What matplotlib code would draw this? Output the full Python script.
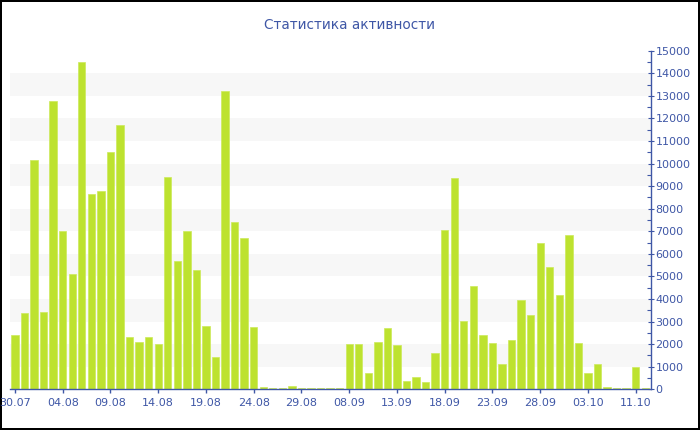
import matplotlib.pyplot as plt
from matplotlib.ticker import MultipleLocator

# Daily activity values, one bar per day shown on the chart
values = [
    2400, 3370, 10150, 3440, 12770, 7030, 5100, 14490, 8640, 8790,
    10530, 11710, 2300, 2110, 2300, 2010, 9400, 5680, 7000, 5300,
    2820, 1450, 13200, 7400, 6690, 2750, 90, 60, 40, 130,
    70, 60, 60, 50, 40, 2000, 1990, 740, 2110, 2730,
    1960, 370, 545, 310, 1600, 7050, 9380, 3030, 4590, 2390,
    2050, 1120, 2200, 3960, 3280, 6500, 5420, 4160, 6820, 2050,
    710, 1110, 110, 50, 50, 975, 50,
]

# Labels shown under every fifth bar
tick_labels = ['30.07', '04.08', '09.08', '14.08', '19.08', '24.08', '29.08',
               '08.09', '13.09', '18.09', '23.09', '28.09', '03.10', '11.10']
tick_pos = list(range(0, len(values), 5))

title = 'Статистика активности'
blue = '#3f57a6'
bar_color = '#bde22f'

fig = plt.figure(figsize=(7, 4.3), dpi=100, linewidth=1.5, edgecolor='black')
ax = fig.add_axes([10 / 700, 1 - 389.3 / 430, 640.7 / 700, (389.3 - 50.7) / 430])

# light striped background bands
for k in range(1, 15, 2):
    ax.axhspan(k * 1000, (k + 1) * 1000, color='#f7f7f7', zorder=0, lw=0)

x = list(range(len(values)))
ax.bar(x, values, width=0.77, color=bar_color, edgecolor='#cdea5a',
       linewidth=0.5, zorder=2)

ax.set_xlim(-0.52, 66.57)
ax.set_ylim(0, 15000)

ax.set_xticks(tick_pos)
ax.set_xticklabels(tick_labels)
ax.yaxis.tick_right()
ax.yaxis.set_major_locator(MultipleLocator(1000))
ax.yaxis.set_minor_locator(MultipleLocator(500))

for side in ['top', 'left']:
    ax.spines[side].set_visible(False)
for side in ['right', 'bottom']:
    ax.spines[side].set_color(blue)
    ax.spines[side].set_linewidth(1)

ax.tick_params(axis='x', colors=blue, labelsize=8, length=3, pad=3, width=1)
ax.tick_params(axis='y', which='major', colors=blue, labelsize=8,
               direction='inout', length=5, pad=1, width=0.8)
ax.tick_params(axis='y', which='minor', colors=blue, direction='in',
               length=3, width=0.8)
ax.set_facecolor('white')

fig.text(0.5, 1 - 25 / 430, title, ha='center', va='center',
         color=blue, fontsize=9.8)

fig.savefig('out.png', dpi=100, edgecolor=fig.get_edgecolor())
